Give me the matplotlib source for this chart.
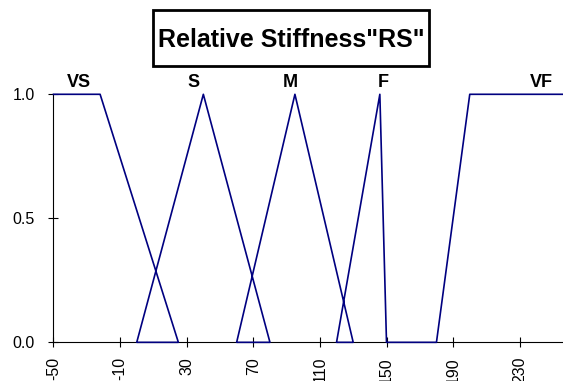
import matplotlib
matplotlib.use('Agg')
import matplotlib.pyplot as plt
from matplotlib.patches import Rectangle

plt.rcParams['font.family'] = ['Liberation Sans', 'DejaVu Sans']

# membership functions (x, degree)
vs_x = [-50, -22, 25]
vs_y = [1, 1, 0]
s_x = [0, 40, 80]
s_y = [0, 1, 0]
m_x = [60, 95, 130]
m_y = [0, 1, 0]
f_x = [120, 146, 150]
f_y = [0, 1, 0]
vf_x = [180, 200, 256]
vf_y = [0, 1, 1]

labels = ['VS', 'S', 'M', 'F', 'VF']
label_x = [-35, 34, 92.5, 148, 243]

x_ticks = [-50, -10, 30, 70, 110, 150, 190, 230]
y_ticks = [0.0, 0.5, 1.0]

# the original draws everything as one continuous polyline
all_x = vs_x + s_x + m_x + f_x + vf_x
all_y = vs_y + s_y + m_y + f_y + vf_y

fig = plt.figure(figsize=(5.63, 3.81), dpi=100)
ax = fig.add_axes([0.095, 0.1015, 0.905, 0.651])

ax.plot(all_x, all_y, color='#000080', linewidth=1.2, zorder=3, clip_on=False)

ax.set_xlim(-50, 256)
ax.set_ylim(0, 1)
ax.set_xticks(x_ticks)
ax.set_xticklabels([str(t) for t in x_ticks], rotation=90, fontsize=11.5)
ax.set_yticks(y_ticks)
ax.set_yticklabels([f'{t:.1f}' for t in y_ticks], fontsize=11.5)
ax.tick_params(axis='both', direction='inout', length=7, width=0.8)
ax.tick_params(axis='y', pad=10)
ax.tick_params(axis='x', pad=7)

for side in ['top', 'right']:
    ax.spines[side].set_visible(False)
for side in ['left', 'bottom']:
    ax.spines[side].set_linewidth(0.8)

for lab, lx in zip(labels, label_x):
    ax.text(lx, 1.031, lab, ha='center', va='baseline', fontsize=13,
            fontweight='bold', clip_on=False)

# boxed title
fig.patches.append(Rectangle((0.271, 0.8276), 0.491, 0.146, transform=fig.transFigure,
                             fill=False, edgecolor='black', linewidth=2))
fig.text(0.518, 0.8774, 'Relative Stiffness"RS"', ha='center', va='baseline',
         fontsize=18, fontweight='bold')

fig.savefig('out.png', dpi=100)
